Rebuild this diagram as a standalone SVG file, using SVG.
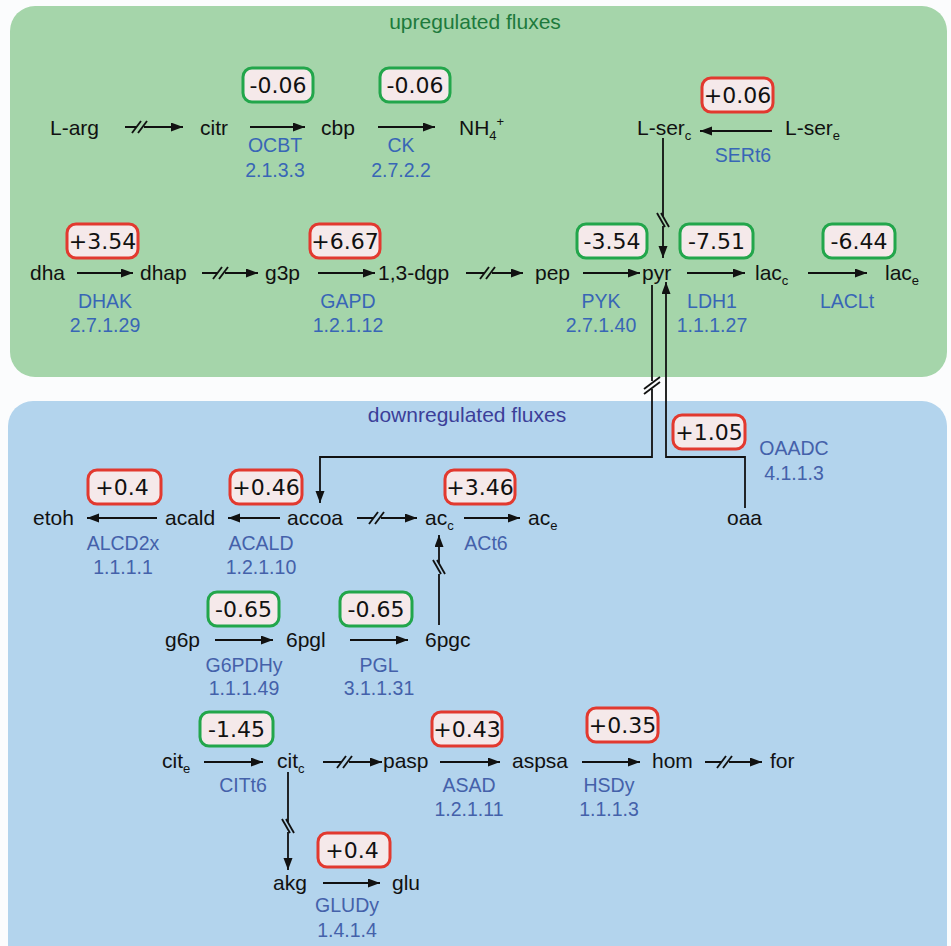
<svg xmlns="http://www.w3.org/2000/svg" width="951" height="946" viewBox="0 0 951 946">
<style>
.m{font-family:"Liberation Sans",Arial,sans-serif;font-size:21px;fill:#111}
.e{font-family:"Liberation Sans",Arial,sans-serif;font-size:19.5px;fill:#3866b6;text-anchor:middle}
.e2{font-family:"Liberation Sans",Arial,sans-serif;font-size:19.5px;fill:#4461aa;text-anchor:middle}
.v{font-family:"DejaVu Sans",Verdana,sans-serif;font-size:22px;fill:#111;text-anchor:middle}
.bx{fill:#f5e9ea;stroke-width:3}
.up{stroke:#22a64b}
.dn{stroke:#e2392f}
.ln{stroke:#111;stroke-width:1.8;fill:none}
.s{font-size:13px}
</style>
<defs>
<marker id="ah" markerUnits="userSpaceOnUse" markerWidth="13" markerHeight="10" refX="12" refY="4.5" orient="auto">
<path d="M0,0 L12,4.5 L0,9 z" fill="#111"/>
</marker>
<g id="bh" class="ln"><line x1="-8" y1="6" x2="1" y2="-6"/><line x1="-2" y1="6" x2="7" y2="-6"/></g>
<g id="bv" class="ln"><line x1="-6" y1="-8" x2="2" y2="6"/><line x1="-2" y1="-8" x2="6" y2="6"/></g>
</defs>
<rect width="951" height="946" fill="#fbfcfd"/>
<rect x="10" y="6" width="937" height="371" rx="25" fill="#a5d5aa"/>
<rect x="8" y="401" width="939" height="580" rx="25" fill="#b3d4ed"/>
<text x="475" y="29" text-anchor="middle" style="font-family:'Liberation Sans',Arial,sans-serif;font-size:21px;fill:#1d7a3c">upregulated fluxes</text>
<text x="467" y="422" text-anchor="middle" style="font-family:'Liberation Sans',Arial,sans-serif;font-size:21px;fill:#3c3f99">downregulated fluxes</text>

<g id="connectors">
<path class="ln" d="M125,127 H136 M144,127 H183" marker-end="url(#ah)"/>
<use href="#bh" x="140" y="127"/>
<path class="ln" d="M250,127 H305" marker-end="url(#ah)"/>
<path class="ln" d="M378,127 H435" marker-end="url(#ah)"/>
<path class="ln" d="M772,131 H700" marker-end="url(#ah)"/>
<path class="ln" d="M663,138 V216 M663,226 V258" marker-end="url(#ah)"/>
<use href="#bv" x="663" y="221"/>
<path class="ln" d="M77,273 H133" marker-end="url(#ah)"/>
<path class="ln" d="M202,273 H217 M225,273 H258" marker-end="url(#ah)"/>
<use href="#bh" x="221" y="273"/>
<path class="ln" d="M318,273 H375" marker-end="url(#ah)"/>
<path class="ln" d="M466,273 H484 M492,273 H523" marker-end="url(#ah)"/>
<use href="#bh" x="488" y="273"/>
<path class="ln" d="M583,273 H640" marker-end="url(#ah)"/>
<path class="ln" d="M687,273 H745" marker-end="url(#ah)"/>
<path class="ln" d="M808,273 H867" marker-end="url(#ah)"/>
<path class="ln" d="M652,285 V381 M652,389 V457 H320 V503" marker-end="url(#ah)"/>
<g class="ln"><line x1="644" y1="389" x2="660" y2="377"/><line x1="644" y1="394" x2="660" y2="382"/></g>
<path class="ln" d="M745,508 V457 H666 V282" marker-end="url(#ah)"/>
<path class="ln" d="M157,518 H87" marker-end="url(#ah)"/>
<path class="ln" d="M280,518 H228" marker-end="url(#ah)"/>
<path class="ln" d="M357,518 H373 M381,518 H417" marker-end="url(#ah)"/>
<use href="#bh" x="377" y="518"/>
<path class="ln" d="M464,518 H520" marker-end="url(#ah)"/>
<path class="ln" d="M439,625 V574 M439,563 V535" marker-end="url(#ah)"/>
<use href="#bv" x="439" y="568"/>
<path class="ln" d="M215,640 H273" marker-end="url(#ah)"/>
<path class="ln" d="M350,640 H408" marker-end="url(#ah)"/>
<path class="ln" d="M204,762 H263" marker-end="url(#ah)"/>
<path class="ln" d="M323,762 H341 M349,762 H382" marker-end="url(#ah)"/>
<use href="#bh" x="345" y="762"/>
<path class="ln" d="M440,762 H500" marker-end="url(#ah)"/>
<path class="ln" d="M582,762 H640" marker-end="url(#ah)"/>
<path class="ln" d="M705,762 H721 M729,762 H762" marker-end="url(#ah)"/>
<use href="#bh" x="725" y="762"/>
<path class="ln" d="M288,772 V822 M288,832 V870" marker-end="url(#ah)"/>
<use href="#bv" x="288" y="827"/>
<path class="ln" d="M323,883 H380" marker-end="url(#ah)"/>
</g>

<g id="L-arg"><text class="m" x="50" y="135">L-arg</text></g>
<g id="citr"><text class="m" x="200" y="135">citr</text></g>
<g id="cbp"><text class="m" x="321" y="135">cbp</text></g>
<g id="NH4"><text class="m" x="459" y="135">NH<tspan class="s" dy="5">4</tspan><tspan class="s" dy="-14">+</tspan></text></g>
<g id="L-ser_c"><text class="m" x="637" y="135">L-ser<tspan class="s" dy="5">c</tspan></text></g>
<g id="L-ser_e"><text class="m" x="785" y="135">L-ser<tspan class="s" dy="5">e</tspan></text></g>
<g id="dha"><text class="m" x="30" y="280">dha</text></g>
<g id="dhap"><text class="m" x="140" y="280">dhap</text></g>
<g id="g3p"><text class="m" x="265" y="280">g3p</text></g>
<g id="dgp"><text class="m" x="378" y="280">1,3-dgp</text></g>
<g id="pep"><text class="m" x="535" y="280">pep</text></g>
<g id="pyr"><text class="m" x="642" y="280">pyr</text></g>
<g id="lac_c"><text class="m" x="755" y="280">lac<tspan class="s" dy="5">c</tspan></text></g>
<g id="lac_e"><text class="m" x="885" y="280">lac<tspan class="s" dy="5">e</tspan></text></g>
<g id="etoh"><text class="m" x="33" y="525">etoh</text></g>
<g id="acald"><text class="m" x="165" y="525">acald</text></g>
<g id="accoa"><text class="m" x="287" y="525">accoa</text></g>
<g id="ac_c"><text class="m" x="425" y="525">ac<tspan class="s" dy="5">c</tspan></text></g>
<g id="ac_e"><text class="m" x="528" y="525">ac<tspan class="s" dy="5">e</tspan></text></g>
<g id="oaa"><text class="m" x="727" y="525">oaa</text></g>
<g id="g6p"><text class="m" x="165" y="647">g6p</text></g>
<g id="6pgl"><text class="m" x="286" y="647">6pgl</text></g>
<g id="6pgc"><text class="m" x="425" y="647">6pgc</text></g>
<g id="cit_e"><text class="m" x="162" y="768">cit<tspan class="s" dy="5">e</tspan></text></g>
<g id="cit_c"><text class="m" x="277" y="768">cit<tspan class="s" dy="5">c</tspan></text></g>
<g id="pasp"><text class="m" x="383" y="768">pasp</text></g>
<g id="aspsa"><text class="m" x="512" y="768">aspsa</text></g>
<g id="hom"><text class="m" x="652" y="768">hom</text></g>
<g id="for"><text class="m" x="770" y="768">for</text></g>
<g id="akg"><text class="m" x="273" y="890">akg</text></g>
<g id="glu"><text class="m" x="392" y="890">glu</text></g>

<g id="OCBT"><rect class="bx up" x="243" y="68" width="70" height="34" rx="9"/><text class="v" x="278" y="93">-0.06</text><text class="e" x="275" y="152">OCBT</text><text class="e" x="275" y="177">2.1.3.3</text></g>
<g id="CK"><rect class="bx up" x="380" y="68" width="70" height="34" rx="9"/><text class="v" x="415" y="93">-0.06</text><text class="e" x="401" y="152">CK</text><text class="e" x="401" y="177">2.7.2.2</text></g>
<g id="SERt6"><rect class="bx dn" x="702" y="78" width="71" height="34" rx="9"/><text class="v" x="737.5" y="103">+0.06</text><text class="e" x="743" y="162">SERt6</text></g>
<g id="DHAK"><rect class="bx dn" x="67" y="224" width="71" height="34" rx="9"/><text class="v" x="102.5" y="249">+3.54</text><text class="e" x="105" y="308">DHAK</text><text class="e" x="105" y="332">2.7.1.29</text></g>
<g id="GAPD"><rect class="bx dn" x="310" y="224" width="70" height="34" rx="9"/><text class="v" x="345" y="249">+6.67</text><text class="e" x="348" y="308">GAPD</text><text class="e" x="348" y="332">1.2.1.12</text></g>
<g id="PYK"><rect class="bx up" x="577" y="224" width="70" height="34" rx="9"/><text class="v" x="612" y="249">-3.54</text><text class="e" x="601" y="308">PYK</text><text class="e" x="601" y="332">2.7.1.40</text></g>
<g id="LDH1"><rect class="bx up" x="680" y="224" width="73" height="34" rx="9"/><text class="v" x="716.5" y="249">-7.51</text><text class="e" x="712" y="308">LDH1</text><text class="e" x="712" y="332">1.1.1.27</text></g>
<g id="LACLt"><rect class="bx up" x="823" y="224" width="72" height="34" rx="9"/><text class="v" x="859" y="249">-6.44</text><text class="e" x="847" y="308">LACLt</text></g>
<g id="OAADC"><rect class="bx dn" x="673" y="415" width="72" height="34" rx="9"/><text class="v" x="709" y="440">+1.05</text><text class="e2" x="794" y="455">OAADC</text><text class="e2" x="794" y="480">4.1.1.3</text></g>
<g id="ALCD2x"><rect class="bx dn" x="88" y="470" width="73" height="34" rx="9"/><text class="v" x="122" y="495">+0.4</text><text class="e2" x="123" y="550">ALCD2x</text><text class="e2" x="123" y="574">1.1.1.1</text></g>
<g id="ACALD"><rect class="bx dn" x="230" y="470" width="72" height="34" rx="9"/><text class="v" x="266" y="495">+0.46</text><text class="e2" x="261" y="550">ACALD</text><text class="e2" x="261" y="574">1.2.1.10</text></g>
<g id="ACt6"><rect class="bx dn" x="445" y="470" width="70" height="34" rx="9"/><text class="v" x="480" y="495">+3.46</text><text class="e2" x="486" y="550">ACt6</text></g>
<g id="G6PDHy"><rect class="bx up" x="208" y="592" width="71" height="34" rx="9"/><text class="v" x="243.5" y="617">-0.65</text><text class="e2" x="244" y="672">G6PDHy</text><text class="e2" x="244" y="695">1.1.1.49</text></g>
<g id="PGL"><rect class="bx up" x="340" y="592" width="72" height="34" rx="9"/><text class="v" x="376" y="617">-0.65</text><text class="e2" x="379" y="672">PGL</text><text class="e2" x="379" y="695">3.1.1.31</text></g>
<g id="CITt6"><rect class="bx up" x="200" y="712" width="73" height="34" rx="9"/><text class="v" x="236.5" y="737">-1.45</text><text class="e2" x="243" y="792">CITt6</text></g>
<g id="ASAD"><rect class="bx dn" x="432" y="712" width="70" height="34" rx="9"/><text class="v" x="467" y="737">+0.43</text><text class="e2" x="469" y="792">ASAD</text><text class="e2" x="469" y="816">1.2.1.11</text></g>
<g id="HSDy"><rect class="bx dn" x="587" y="708" width="71" height="34" rx="9"/><text class="v" x="622.5" y="733">+0.35</text><text class="e2" x="609" y="792">HSDy</text><text class="e2" x="609" y="816">1.1.1.3</text></g>
<g id="GLUDy"><rect class="bx dn" x="318" y="833" width="72" height="34" rx="9"/><text class="v" x="352" y="858">+0.4</text><text class="e2" x="347" y="912">GLUDy</text><text class="e2" x="347" y="937">1.4.1.4</text></g>
</svg>
